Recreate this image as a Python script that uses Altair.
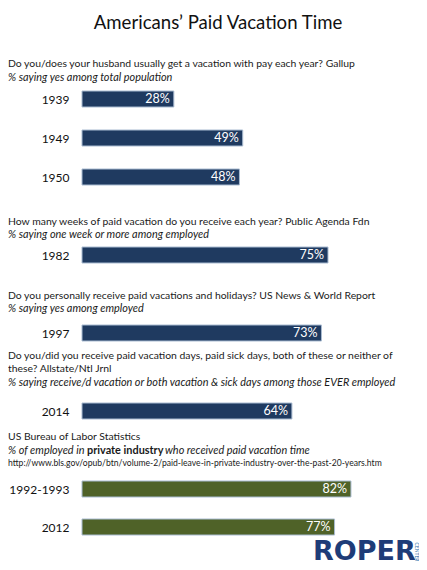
import altair as alt
import pandas as pd

FONT = "Lato"
W = 328
LEFT = -74
TXT = "#1a1a1a"
NAVY = "#1F3A60"
GREEN = "#4F6228"
BORDER = "#a9bbd1"
QSIZE = 10.4
ISIZE = 10.9

title_text = "Americans\u2019 Paid Vacation Time"

q1_lines = ["Do you/does your husband usually get a vacation with pay each year? Gallup"]
q1_sub = "% saying yes among total population"
s1_years = ["1939", "1949", "1950"]
s1_values = [28, 49, 48]

q2_lines = ["How many weeks of paid vacation do you receive each year? Public Agenda Fdn"]
q2_sub = "% saying one week or more among employed"
s2_years = ["1982"]
s2_values = [75]

q3_lines = ["Do you personally receive paid vacations and holidays? US News & World Report"]
q3_sub = "% saying yes among employed"
s3_years = ["1997"]
s3_values = [73]

q4_lines = ["Do you/did you receive paid vacation days, paid sick days, both of these or neither of",
            "these? Allstate/Ntl Jrnl"]
q4_sub = "% saying receive/d vacation or both vacation & sick days among those EVER employed"
s4_years = ["2014"]
s4_values = [64]

q5_lines = ["US Bureau of Labor Statistics"]
q5_sub_parts = ["% of employed in", "private industry", "who received paid vacation time"]
q5_url = "http://www.bls.gov/opub/btn/volume-2/paid-leave-in-private-industry-over-the-past-20-years.htm"
s5_years = ["1992-1993", "2012"]
s5_values = [82, 77]

logo_text = "ROPER"
logo_small = "CENTER"


def text_layer(s, y, x=LEFT, size=QSIZE, style="normal", weight="normal", color=TXT,
               align="left", angle=0, font=FONT):
    return alt.Chart(pd.DataFrame({"t": [s]})).mark_text(
        align=align, baseline="middle", font=font, fontSize=size, fontStyle=style,
        fontWeight=weight, color=color, angle=angle
    ).encode(text="t:N", x=alt.value(x), y=alt.value(y))


def block(layers, h):
    return alt.layer(*layers).properties(width=W, height=h)


def bars(years, values, color, height, pad):
    df = pd.DataFrame({"year": years, "pct": values,
                       "label": [f"{v}%" for v in values]})
    y = alt.Y("year:N", sort=years, title=None,
              scale=alt.Scale(type="point", padding=pad),
              axis=alt.Axis(domain=False, ticks=False, grid=False, labelFontSize=12,
                            labelFont=FONT, labelColor="#111111", labelPadding=13))
    x = alt.X("pct:Q", scale=alt.Scale(domain=[0, 100]), axis=None)
    base = alt.Chart(df).encode(y=y, x=x)
    b = base.mark_bar(size=16, color=color, stroke=BORDER, strokeWidth=1)
    t = base.mark_text(align="right", baseline="middle", dx=-4, color="white",
                       fontSize=12.5, font=FONT).encode(text="label:N")
    return alt.layer(b, t).properties(width=W, height=height)


h1 = block([text_layer(title_text, 15, x=136, size=18.6, align="center", color="#111111"),
            text_layer(q1_lines[0], 56),
            text_layer(q1_sub, 70, style="italic", size=ISIZE)], 80)
b1 = bars(s1_years, s1_values, NAVY, 100, 11 / 39)

h2 = block([text_layer(q2_lines[0], 34),
            text_layer(q2_sub, 47, style="italic", size=ISIZE)], 56)
b2 = bars(s2_years, s2_values, NAVY, 22, 0.5)

h3 = block([text_layer(q3_lines[0], 30),
            text_layer(q3_sub, 43, style="italic", size=ISIZE)], 56)
b3 = bars(s3_years, s3_values, NAVY, 22, 0.5)

h4 = block([text_layer(q4_lines[0], 12),
            text_layer(q4_lines[1], 25),
            text_layer(q4_sub, 39, style="italic", size=ISIZE)], 56)
b4 = bars(s4_years, s4_values, NAVY, 22, 0.5)

h5 = block([text_layer(q5_lines[0], 15),
            text_layer(q5_sub_parts[0], 29, style="italic", size=ISIZE),
            text_layer(q5_sub_parts[1], 29, x=LEFT + 79, weight="bold", size=ISIZE),
            text_layer(q5_sub_parts[2], 29, x=LEFT + 157, style="italic", size=ISIZE),
            text_layer(q5_url, 41, size=8.6)], 56)
b5 = bars(s5_years, s5_values, GREEN, 60, 11 / 38)

logo = block([text_layer(logo_text, 14, x=231, size=27, weight="bold", color="#1E3C78",
                         align="left", font="DejaVu Sans"),
              text_layer(logo_small, 14, x=335, size=5, color="#2A6FA8", align="center",
                         angle=90)], 28)

chart = alt.vconcat(h1, b1, h2, b2, h3, b3, h4, b4, h5, b5, logo, spacing=0).properties(
    padding=0
).configure_view(stroke=None)

chart.save("out.html", embed_options={"renderer": "svg", "actions": False})
